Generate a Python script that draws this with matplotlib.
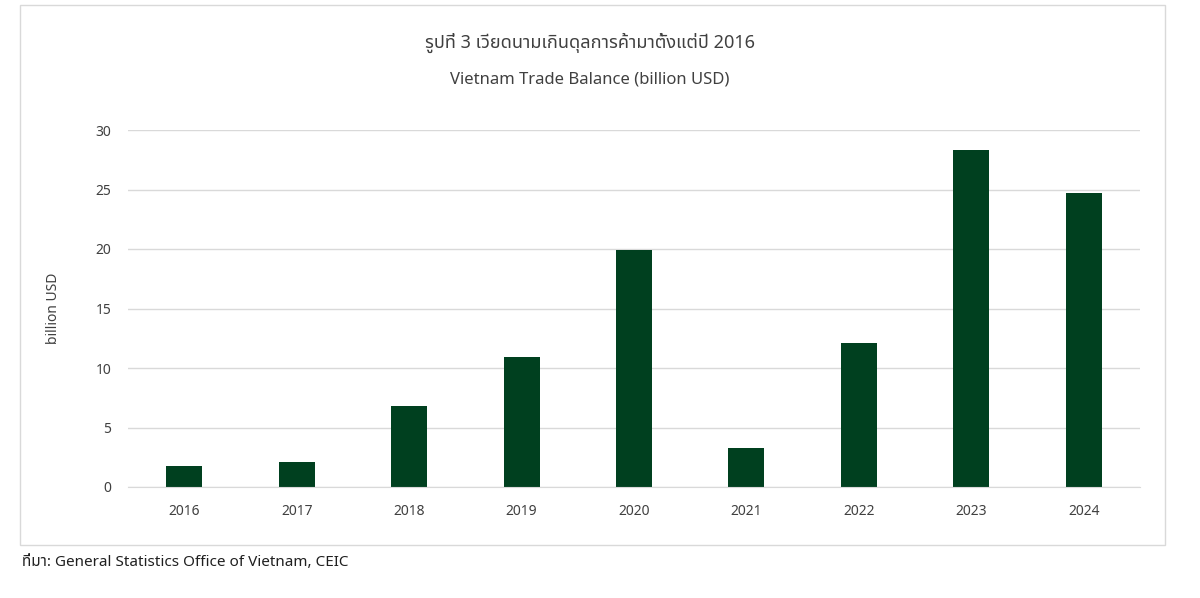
import matplotlib
matplotlib.use("Agg")
import matplotlib.pyplot as plt
from matplotlib.patches import Rectangle

years = ["2016","2017","2018","2019","2020","2021","2022","2023","2024"]
values = [1.8, 2.1, 6.8, 10.9, 19.9, 3.3, 12.1, 28.3, 24.7]
yticks = [0, 5, 10, 15, 20, 25, 30]

fams = ["Noto Sans Thai", "Loma", "Garuda", "Tlwg Typo", "DejaVu Sans", "Noto Sans"]
plt.rcParams['font.family'] = fams

fig = plt.figure(figsize=(12, 5.98), dpi=100)
fig.patches.append(Rectangle((20/1200, 1-545/598), 1145/1200, 540/598, transform=fig.transFigure,
                             fill=False, edgecolor="#d9d9d9", lw=1))
ax = fig.add_axes([128/1200, 1-487/598, 1012/1200, 357/598])
ax.bar(range(len(years)), values, width=0.32, color="#00401f")
ax.set_xlim(-0.5, len(years)-0.5)
ax.set_ylim(0, 30)
ax.set_yticks(yticks)
ax.set_xticks(range(len(years)))
ax.set_xticklabels(years)
ax.yaxis.grid(True, color="#d9d9d9", lw=1)
ax.set_axisbelow(True)
for s in ["top", "right", "left"]:
    ax.spines[s].set_visible(False)
ax.spines["bottom"].set_color("#d9d9d9")
ax.tick_params(length=0, labelsize=10, colors="#404040", pad=12)
ax.set_ylabel("billion USD", fontsize=10, color="#404040", labelpad=25)
fig.text(590/1200, 1-43/598, "รูปที่ 3 เวียดนามเกินดุลการค้ามาตั้งแต่ปี 2016", ha="center", va="center", fontsize=13, color="#404040")
fig.text(590/1200, 1-80/598, "Vietnam Trade Balance (billion USD)", ha="center", va="center", fontsize=12, color="#404040")
fig.text(22/1200, 1-563/598, "ที่มา: General Statistics Office of Vietnam, CEIC", ha="left", va="center", fontsize=11, color="#202020")
fig.savefig("out.png", dpi=100, facecolor="white")
